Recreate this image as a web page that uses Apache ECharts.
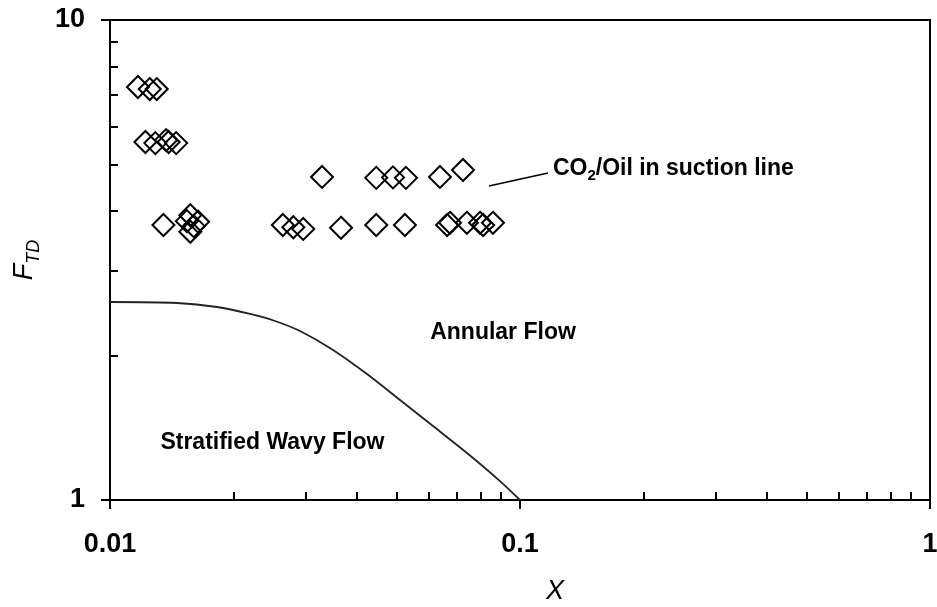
<!DOCTYPE html>
<html>
<head>
<meta charset="utf-8">
<script src="https://cdn.jsdelivr.net/npm/echarts@6/dist/echarts.min.js"></script>
<style>
html,body{margin:0;padding:0;background:#fff;}
#main{width:937px;height:607px;}
</style>
</head>
<body>
<div id="main"></div>
<script>
// ---- data ----
const xTickLabels = ['0.01', '0.1', '1'];
const yTickLabels = ['1', '10'];

// CO2/Oil in suction line measurements [X, F_TD]
const pointsX = [
  0.0117, 0.0125, 0.0130,
  0.0122, 0.0129, 0.0137, 0.0139, 0.0145,
  0.0329, 0.0446, 0.0490, 0.0527, 0.0638, 0.0726,
  0.0135, 0.0154, 0.0157, 0.0164, 0.0157, 0.0160,
  0.0264, 0.0280, 0.0296, 0.0366, 0.0446, 0.0524,
  0.0664, 0.0675, 0.0742, 0.0799, 0.0813, 0.0859
];
const pointsY = [
  7.25, 7.18, 7.18,
  5.57, 5.54, 5.62, 5.57, 5.54,
  4.71, 4.69, 4.70, 4.69, 4.71, 4.87,
  3.74, 3.81, 3.92, 3.80, 3.62, 3.72,
  3.74, 3.70, 3.67, 3.69, 3.74, 3.74,
  3.74, 3.78, 3.78, 3.78, 3.74, 3.78
];

// Stratified-wavy / annular transition curve
const curveX = [0.0100, 0.01457, 0.01824, 0.02195, 0.02526, 0.02907, 0.03499, 0.04234, 0.05097, 0.06135, 0.07424, 0.08937, 0.1000];
const curveY = [2.585, 2.573, 2.524, 2.441, 2.360, 2.249, 2.054, 1.830, 1.616, 1.426, 1.253, 1.095, 1.000];

// leader line for the data label
const leaderX = [0.0840, 0.1170];
const leaderY = [4.51, 4.80];

// text annotations
const labelNames = ['Annular Flow', 'Stratified Wavy Flow'];
const labelX = [0.0909, 0.0249];
const labelY = [2.228, 1.318];
const seriesLabelX = 0.1203;
const seriesLabelY = 4.94;

// ---- chart ----
const FONT = 'Liberation Sans, Arial, Helvetica, sans-serif';
const zip = (a, b) => a.map((v, i) => [v, b[i]]);

const chart = echarts.init(document.getElementById('main'), null, {renderer: 'canvas'});

const axisCommon = {
  type: 'log',
  logBase: 10,
  axisLine: {show: true, lineStyle: {color: '#000', width: 2}},
  axisTick: {show: true, inside: false, length: 9, lineStyle: {color: '#000', width: 2}},
  minorTick: {show: true, splitNumber: 9, length: -8, lineStyle: {color: '#000', width: 2}},
  splitLine: {show: false},
  minorSplitLine: {show: false},
  axisLabel: {color: '#000', fontFamily: FONT, fontWeight: 'bold', fontSize: 27}
};

chart.setOption({
  animation: false,
  backgroundColor: '#fff',
  grid: {
    left: 110, right: 7, top: 20, bottom: 107,
    containLabel: false, outerBoundsMode: 'none',
    show: true, borderColor: '#000', borderWidth: 2, backgroundColor: 'transparent'
  },
  xAxis: Object.assign({}, axisCommon, {
    min: 0.01, max: 1,
    axisLabel: Object.assign({}, axisCommon.axisLabel, {
      margin: 31,
      formatter: v => xTickLabels.find(t => Math.abs(parseFloat(t) - v) < 1e-9) || ''
    }),
    name: 'X',
    nameLocation: 'middle',
    nameGap: 78,
    nameTextStyle: {color: '#000', fontFamily: FONT, fontStyle: 'italic', fontSize: 27, padding: [0, 0, 0, 70]}
  }),
  yAxis: Object.assign({}, axisCommon, {
    min: 1, max: 10,
    axisLabel: Object.assign({}, axisCommon.axisLabel, {
      margin: 25,
      formatter: v => yTickLabels.find(t => Math.abs(parseFloat(t) - v) < 1e-9) || ''
    }),
    name: '{f|F}{s|TD}',
    nameLocation: 'middle',
    nameGap: 72,
    nameRotate: 90,
    nameTextStyle: {
      color: '#000',
      rich: {
        f: {fontFamily: FONT, fontStyle: 'italic', fontSize: 27, lineHeight: 30, verticalAlign: 'bottom'},
        s: {fontFamily: FONT, fontStyle: 'italic', fontSize: 18, lineHeight: 30, verticalAlign: 'bottom', padding: [0, 0, -5, 0]}
      }
    }
  }),
  series: [
    {
      type: 'line',
      data: zip(curveX, curveY),
      smooth: 0.3,
      showSymbol: false,
      symbol: 'none',
      lineStyle: {color: '#222', width: 1.8},
      z: 2
    },
    {
      type: 'scatter',
      data: zip(pointsX, pointsY),
      symbol: 'diamond',
      symbolSize: 22,
      itemStyle: {color: 'rgba(0,0,0,0)', borderColor: '#000', borderWidth: 2, opacity: 1},
      z: 3
    },
    {
      type: 'line',
      data: zip(leaderX, leaderY),
      showSymbol: false,
      symbol: 'none',
      lineStyle: {color: '#000', width: 1.6},
      z: 3
    },
    {
      type: 'scatter',
      symbolSize: 0,
      itemStyle: {opacity: 1},
      data: labelNames.map((n, i) => ({name: n, value: [labelX[i], labelY[i]]})),
      label: {
        show: true, position: 'inside', formatter: '{b}',
        color: '#000', textBorderWidth: 0, fontFamily: FONT, fontWeight: 'bold', fontSize: 23
      },
      z: 4
    },
    {
      type: 'scatter',
      symbolSize: 0,
      itemStyle: {opacity: 1},
      data: [{name: 'CO2', value: [seriesLabelX, seriesLabelY]}],
      label: {
        show: true, position: 'right', distance: 0,
        formatter: '{a|CO}{b|2}{a|/Oil in suction line}',
        rich: {
          a: {color: '#000', fontFamily: FONT, fontWeight: 'bold', fontSize: 23, lineHeight: 26, verticalAlign: 'bottom'},
          b: {color: '#000', fontFamily: FONT, fontWeight: 'bold', fontSize: 15, lineHeight: 26, verticalAlign: 'bottom', padding: [0, 0, -3, 0]}
        }
      },
      z: 4
    }
  ]
});
</script>
</body>
</html>
